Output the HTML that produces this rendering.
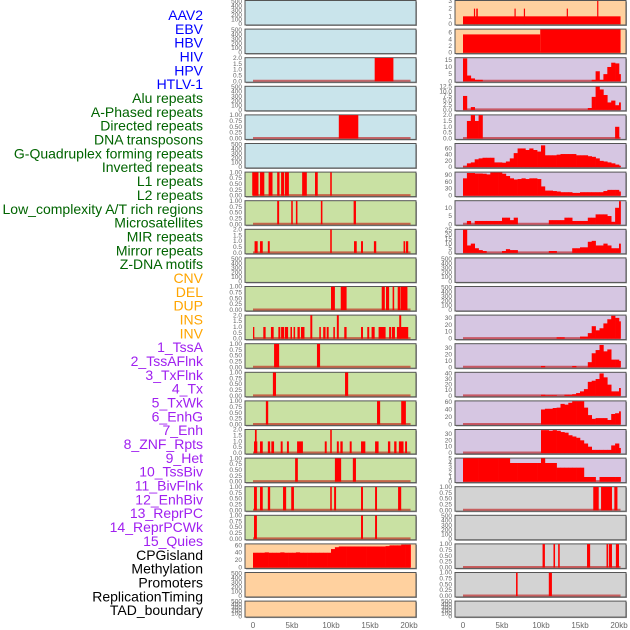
<!DOCTYPE html>
<html><head><meta charset="utf-8">
<style>
body{margin:0;background:#fff;width:630px;height:630px;overflow:hidden}
svg{display:block}
</style></head>
<body>
<svg id="chart" width="630" height="630" xmlns="http://www.w3.org/2000/svg" font-family="Liberation Sans, sans-serif"></svg>
<script>
const rowLabels=["AAV2","EBV","HBV","HIV","HPV","HTLV-1","Alu repeats","A-Phased repeats","Directed repeats","DNA transposons","G-Quadruplex forming repeats","Inverted repeats","L1 repeats","L2 repeats","Low_complexity A/T rich regions","Microsatellites","MIR repeats","Mirror repeats","Z-DNA motifs","CNV","DEL","DUP","INS","INV","1_TssA","2_TssAFlnk","3_TxFlnk","4_Tx","5_TxWk","6_EnhG","7_Enh","8_ZNF_Rpts","9_Het","10_TssBiv","11_BivFlnk","12_EnhBiv","13_ReprPC","14_ReprPCWk","15_Quies","CPGisland","Methylation","Promoters","ReplicationTiming","TAD_boundary"];
const labelGroups=[6,13,5,15,5];
const groupColors=["#0000ff","#006400","#ffa500","#a020f0","#000000"];
const xTicks=[0,5,10,15,20];
const xTickLabels=["0","5kb","10kb","15kb","20kb"];
const T01=[0,0.25,0.5,0.75,1], T01L=["0.00","0.25","0.50","0.75","1.00"];
const T02=[0,0.5,1,1.5,2], T02L=["0.0","0.5","1.0","1.5","2.0"];
const TE=[0,100,200,300,400,500], TEL=["0","100","200","300","400","500"];
// left column segments [start_kb,end_kb,value]
const segL2=[[15.6,18,2]];
const segL4=[[11,13.5,1]];
const segL6=[[-0.1,0.7,1],[0.9,1.45,1],[2.0,2.5,1],[3.1,3.4,1],[3.6,4.0,1],[4.1,4.6,1],[6.3,6.9,1],[7.95,8.3,1],[9.9,10.1,1]];
const segL7=[[3.1,3.35,1],[4.9,5.1,1],[5.5,5.7,1],[8.7,8.9,1],[12.9,13.2,1]];
const segL8=[[0.2,0.6,1],[0.9,1.25,1],[1.9,2.15,1],[9.9,10.1,2],[12.95,13.3,1],[13.85,14.1,1],[15.5,15.8,1],[19.3,19.5,1],[19.6,19.9,1]];
const segL10=[[10,10.5,1],[11.25,12.0,1],[16.5,16.9,1],[17.05,17.45,1],[17.9,18.1,1],[18.55,18.85,1],[18.9,19.8,1]];
const segL11=[[0,0.17,1],[1.32,1.62,1],[2.3,2.65,1],[3.25,3.5,1],[3.6,4.0,1],[4.1,4.5,1],[4.8,5.0,1],[5.2,5.4,1],[5.7,6.0,1],[6.15,6.6,1],[7.35,7.6,2],[8.5,8.7,1],[9.0,9.3,1],[9.45,9.7,1],[10.3,10.5,1],[10.75,11.0,2],[11.7,12.0,1],[13.85,14.1,1],[14.65,14.9,1],[15.2,15.6,1],[16.1,17.0,1],[17.45,17.7,1],[17.8,18.2,1],[18.45,19.9,1],[18.75,19.0,2]];
const segL12=[[2.7,3.35,1],[8.2,8.6,1]];
const segL13=[[2.55,2.95,1],[11.8,12.2,1]];
const segL14=[[1.65,1.95,1],[15.9,16.3,1],[19.0,19.6,1]];
const segL15=[[0.13,0.55,1],[0.25,0.47,2],[0.9,1.25,1],[1.9,2.2,1],[2.35,2.7,1],[3.55,3.8,1],[4.35,4.6,1],[5.65,6.4,1],[9.2,9.45,1],[9.9,10.1,2],[10.75,11.0,1],[11.2,11.5,1],[12.4,12.65,1],[13.85,14.4,1],[15.65,16.1,1],[17.3,17.6,1],[18.1,18.4,1],[18.7,19.3,1],[19.5,19.75,1]];
const segL16=[[5.4,5.75,1],[10.5,11.3,1],[12.8,13.2,1]];
const segL17=[[0.13,0.5,1],[0.9,1.25,1],[1.9,2.2,1],[3.85,4.25,1],[4.9,5.25,1],[9.9,10.1,1],[10.4,10.65,1],[13.85,14.1,1],[15.65,15.9,1],[18.6,19.0,1]];
const segL18=[[0.13,0.5,1],[13.85,14.1,1],[15.65,15.9,1]];
const profL19=[40,40,40,41,40,40,40,41,40,40,40,41,40,40,40,40,40,40,40,40,50,55,57,57,57,57,57,57,57,57,57,57,57,57,58,60,60,60,62,62,62];
// right column
const segR0=[[0,20.2,1],[1.4,1.5,2],[1.7,1.9,2],[6.6,6.75,2],[7.8,7.95,2],[13.3,13.45,2],[17.2,17.35,3]];
const segR1=[[0,9.9,5.5],[9.9,20.2,7]];
const profR2=[16,4,2,1,1,0,0,0,0,0,0,0,0,0,0,0,0,0,0,0,0,0,0,0,0,0,0,0,0,0,0,0,0,1,7,1,5,10,13,12.5,5];
const profR3=[7.5,0,1.5,0,0,0,0,0,0,0,0,0,0,0,0,0,0,0,0,0,0,0,0,0,0,0,0,0,0,0,0,0,1,7,12.5,11,8,4,5,2.5,4];
const profR4=[0,1.5,2,1.5,2,0,0,0,0,0,0,0,0,0,0,0,0,0,0,0,0,0,0,0,0,0,0,0,0,0,0,0,0,0,0,0,0,0,0,1,0];
const profR5=[2,12,15,25,28,30,30,30,15,15,14,18,28,45,60,60,55,60,55,50,70,38,38,38,40,42,42,42,42,38,38,38,35,33,28,20,18,15,12,8,4];
const profR6=[75,98,98,96,96,95,92,100,100,100,95,85,75,70,72,75,72,75,75,72,40,22,22,20,18,15,15,15,12,12,15,15,15,15,15,15,20,25,25,25,18];
const profR7=[0,2,0,2,2,2,2,2,2,2,4,4,2.5,4,0,0,0,0,0,0,0,0,2.5,2.5,2.5,2.5,4,4,2,2,2,2,4,4,6,6,6,5,1.5,10,14];
const profR8=[25,8,10,5,3,2,0,0,0,0,2,4,3,3,0,0,0,0,0,0,0,0,2,2,0,0,0,0,5,5,6,6,12,13,8,8,10,8,5,5,10];
const profR11=[0,0,0,0,0,0,0,0,0,0,0,0,0,0,0,0,0,0,0,0,0,0,0,0,2,2,0,0,0,0,3,3,8,18,12,15,22,28,33,30,25];
const profR12=[0,0,0,0,0,0,0,0,0,0,0,0,0,0,0,0,0,0,0,0,2,0,0,0,0,0,0,0,2,0,0,0,8,22,27,35,25,28,12,12,10];
const profR13=[0,0,0,0,0,0,0,0,0,0,0,0,0,0,0,0,0,0,0,0,2,1,1,1,0,0,2,2,3,5,8,12,25,27,30,40,33,20,8,8,14];
const profR14=[0,0,0,0,0,0,0,0,0,0,0,0,0,0,0,0,0,0,0,0,40,42,42,44,45,55,53,58,62,62,62,45,25,15,17,17,17,12,28,30,35];
const profR15=[0,0,0,0,0,0,0,0,0,0,0,0,0,0,0,0,0,0,0,0,36,36,35,36,35,33,32,28,26,24,20,15,10,5,5,5,5,5,12,15,8];
const profR16=[5,5,5,5,5,5,5,5,5,5,5,5,4,4,4,4,4,4,4,4,5,4,4,4,3,3,3,3,3,3,3,1,1,1,0,1,1,1,1,1,1];
const segR17=[[16.7,17.4,1],[17.7,19.1,1],[19.4,19.8,1]];
const segR19=[[10.2,10.5,1],[11.6,11.8,1],[12.2,12.4,1],[15.9,16.3,1],[18.4,18.6,1],[18.7,19.1,1],[19.6,20,1]];
const segR20=[[6.8,7.0,1],[11.0,11.4,1]];

const BLUE="#c9e4eb",GREEN="#c9e1a3",ORANGE="#ffd19f",PURPLE="#d6c6e2",GRAY="#d3d3d3";
const E={ticks:TE,tl:TEL,ymax:520,ymin:-20};
function P(bg,ticks,tl,ymax,seg,prof){return {bg:bg,ticks:ticks,tl:tl,ymax:ymax,ymin:-ymax*0.04,seg:seg,prof:prof};}
function Em(bg){return {bg:bg,ticks:TE,tl:TEL,ymax:520,ymin:-20};}
const left=[Em(BLUE),Em(BLUE),P(BLUE,T02,T02L,2.02,segL2),Em(BLUE),P(BLUE,T01,T01L,1.01,segL4),Em(BLUE),
P(GREEN,T01,T01L,1.01,segL6),P(GREEN,T01,T01L,1.01,segL7),P(GREEN,T02,T02L,2.02,segL8),Em(GREEN),
P(GREEN,T01,T01L,1.01,segL10),P(GREEN,T02,T02L,2.02,segL11),P(GREEN,T01,T01L,1.01,segL12),P(GREEN,T01,T01L,1.01,segL13),
P(GREEN,T01,T01L,1.01,segL14),P(GREEN,T02,T02L,2.02,segL15),P(GREEN,T01,T01L,1.01,segL16),P(GREEN,T01,T01L,1.01,segL17),
P(GREEN,T01,T01L,1.01,segL18),P(ORANGE,[0,20,40,60],["0","20","40","60"],64,null,profL19),Em(ORANGE),Em(ORANGE)];
const right=[P(ORANGE,[0,1,2,3],["0","1","2","3"],3.05,segR0),P(ORANGE,[0,2,4,6],["0","2","4","6"],7.1,segR1),
P(PURPLE,[0,5,10,15],["0","5","10","15"],16.5,null,profR2),
P(PURPLE,[0,2.5,5,7.5,10,12.5],["0.0","2.5","5.0","7.5","10.0","12.5"],12.7,null,profR3),
P(PURPLE,T02,T02L,2.02,null,profR4),
P(PURPLE,[0,20,40,60],["0","20","40","60"],76,null,profR5),
P(PURPLE,[0,30,60,90],["0","30","60","90"],102,null,profR6),
P(PURPLE,[0,5,10],["0","5","10"],14.3,null,profR7),
P(PURPLE,[0,5,10,15,20,25],["0","5","10","15","20","25"],25.5,null,profR8),
Em(PURPLE),Em(PURPLE),
P(PURPLE,[0,10,20,30],["0","10","20","30"],34,null,profR11),
P(PURPLE,[0,10,20,30],["0","10","20","30"],37,null,profR12),
P(PURPLE,[0,10,20,30,40],["0","10","20","30","40"],42,null,profR13),
P(PURPLE,[0,20,40,60],["0","20","40","60"],63,null,profR14),
P(PURPLE,[0,10,20,30],["0","10","20","30"],37,null,profR15),
P(PURPLE,[0,1,2,3,4,5],["0","1","2","3","4","5"],5.05,null,profR16),
P(GRAY,T01,T01L,1.01,segR17),Em(GRAY),P(GRAY,T01,T01L,1.01,segR19),P(GRAY,T01,T01L,1.01,segR20),Em(GRAY)];

const NS="http://www.w3.org/2000/svg";
const svg=document.getElementById("chart");
function mk(tag,attrs,parent){const e=document.createElementNS(NS,tag);for(const k in attrs)e.setAttribute(k,attrs[k]);(parent||svg).appendChild(e);return e;}

// labels
let gi=0,cnt=0;
rowLabels.forEach((t,i)=>{
  while(i>=cnt+labelGroups[gi]){cnt+=labelGroups[gi];gi++;}
  const el=mk("text",{x:203,y:15+i*13.84+5,"text-anchor":"end","font-size":"14",fill:groupColors[gi]});
  el.textContent=t;
  
  
});

function drawCol(panels,x0,col){
  const W=171, xa=x0+8, xs=156/20;
  const X=v=>xa+v*xs;
  panels.forEach((p,i)=>{
    const top=0.5+i*28.6, h=(i===21?16:24.5);
    const g=mk("g",{});
    
    
    mk("rect",{x:x0+1,y:top+1,width:W,height:h,fill:"#999"},g);
    mk("rect",{x:x0,y:top,width:W,height:h,fill:p.bg,stroke:"#555","stroke-width":1},g);
    const Y=v=>top+h-((v-p.ymin)/(p.ymax-p.ymin))*h;
    p.ticks.forEach((tv,k)=>{
      const tx=mk("text",{x:x0-3,y:Y(tv)+2,"text-anchor":"end","font-size":"6.5",fill:"#666"},g);
      tx.textContent=p.tl[k];
      
      
    });
    if(p.seg||p.prof){
      const bl=mk("line",{x1:X(0),x2:X(20.2),y1:Y(0)-0.5,y2:Y(0)-0.5,stroke:"rgba(190,0,0,0.55)","stroke-width":2},g);
      
      
    }
    if(p.prof){
      p.prof.forEach((v,k)=>{
        if(v<=0)return;
        const s=k*0.5,e=Math.min(k*0.5+0.5,20.2);
        const r=mk("rect",{x:X(s),y:Y(v),width:X(e)-X(s)+0.3,height:Y(0)-Y(v),fill:"#ff0000"},g);
        
        
      });
    }
    if(p.seg){
      p.seg.forEach(s=>{
        const a=Math.max(s[0],-0.1);
        const r=mk("rect",{x:X(a),y:Y(s[2]),width:Math.max(X(s[1])-X(a),1.2),height:Y(0)-Y(s[2]),fill:"#ff0000"},g);
        
        
      });
    }
  });
  xTicks.forEach((t,k)=>{
    const tx=mk("text",{x:X(t),y:628,"text-anchor":"middle","font-size":"8",fill:"#666"});
    tx.textContent=xTickLabels[k];
    
    
  });
}
drawCol(left,245,'left');
drawCol(right,455,'right');
</script>
</body></html>
